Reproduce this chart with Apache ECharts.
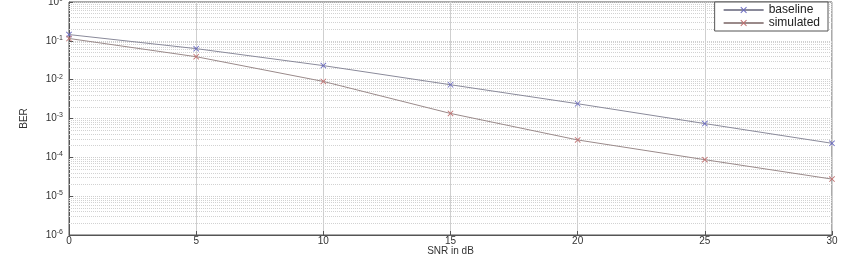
<!DOCTYPE html>
<html>
<head>
<meta charset="utf-8">
<script src="https://cdn.jsdelivr.net/npm/echarts@6/dist/echarts.min.js"></script>
<style>
  html, body { margin: 0; padding: 0; background: #fff; }
  #chart { width: 846px; height: 256px; }
</style>
</head>
<body>
<div id="chart"></div>
<script>
// data
const snr = [0, 5, 10, 15, 20, 25, 30]
const baseline = [0.145, 0.063, 0.023, 0.0074, 0.0024, 0.00074, 0.00023]
const simulated = [0.115, 0.039, 0.009, 0.00135, 0.00028, 0.000087, 0.0000275]
const decades = [-6, -5, -4, -3, -2, -1]

// minor grid lines at 2..9 x 10^k
const minorLines = []
decades.forEach(k => {
  for (let m = 2; m <= 9; m++) {
    const v = m * Math.pow(10, k)
    minorLines.push([{ coord: [0, v] }, { coord: [30, v] }])
  }
})

const cross = 'path://M0,1 L1,0 L5,4 L9,0 L10,1 L6,5 L10,9 L9,10 L5,6 L1,10 L0,9 L4,5 Z'
const font = 'Liberation Sans, Arial, sans-serif'

let myChart = echarts.init(document.getElementById('chart'))

myChart.setOption({
  animation: false,
  textStyle: { fontFamily: font },
  grid: {
    left: 69,
    right: 14,
    top: 2,
    bottom: 21,
    outerBoundsMode: 'none',
    containLabel: false,
    show: true,
    borderColor: '#555',
    borderWidth: 1,
  },
  legend: {
    orient: 'vertical',
    right: 18,
    top: 2,
    itemWidth: 40,
    itemHeight: 8,
    itemGap: 1,
    padding: [2, 8, 2, 8],
    backgroundColor: '#fff',
    borderColor: '#555',
    borderWidth: 1,
    borderRadius: 0,
    textStyle: { fontSize: 12, color: '#222', fontFamily: font },
    data: ['baseline', 'simulated'],
  },
  xAxis: {
    type: 'value',
    min: 0,
    max: 30,
    interval: 5,
    name: 'SNR in dB',
    nameLocation: 'middle',
    nameGap: 11,
    nameMoveOverlap: false,
    nameTextStyle: { fontSize: 10, color: '#333', lineHeight: 10 },
    axisLine: { lineStyle: { color: '#555' } },
    axisTick: { inside: true, length: 4, lineStyle: { color: '#555' } },
    axisLabel: { fontSize: 10, color: '#333', margin: 1 },
    splitLine: { show: true, lineStyle: { color: '#cfcfcf', width: 1 } },
  },
  yAxis: {
    type: 'log',
    logBase: 10,
    min: 1e-6,
    max: 1,
    name: 'BER',
    nameLocation: 'middle',
    nameGap: 40,
    nameMoveOverlap: false,
    nameTextStyle: { fontSize: 10, color: '#333' },
    axisLine: { lineStyle: { color: '#555' } },
    axisTick: { inside: true, length: 4, lineStyle: { color: '#555' } },
    axisLabel: {
      color: '#333',
      margin: 6,
      formatter: v => '{b|10}{s|' + Math.round(Math.log10(v)) + '}',
      rich: {
        b: { fontSize: 10, color: '#333', fontFamily: font },
        s: { fontSize: 7, color: '#333', fontFamily: font, verticalAlign: 'top', padding: [0, 0, 6, 0] },
      },
    },
    splitLine: { show: true, lineStyle: { color: '#cfcfcf', type: 'dotted' } },
  },
  series: [
    {
      name: 'baseline',
      type: 'line',
      data: snr.map((x, i) => [x, baseline[i]]),
      symbol: cross,
      symbolSize: 6,
      showAllSymbol: true,
      itemStyle: { color: '#6a6ac0' },
      lineStyle: { color: '#8a8a9a', width: 1 },
      markLine: {
        silent: true,
        symbol: 'none',
        label: { show: false },
        lineStyle: { color: '#d2d2d2', type: 'dotted', width: 1 },
        data: minorLines,
        z: 1,
      },
    },
    {
      name: 'simulated',
      type: 'line',
      data: snr.map((x, i) => [x, simulated[i]]),
      symbol: cross,
      symbolSize: 6,
      showAllSymbol: true,
      itemStyle: { color: '#c07070' },
      lineStyle: { color: '#9a8a8a', width: 1 },
    },
  ],
})
</script>
</body>
</html>
